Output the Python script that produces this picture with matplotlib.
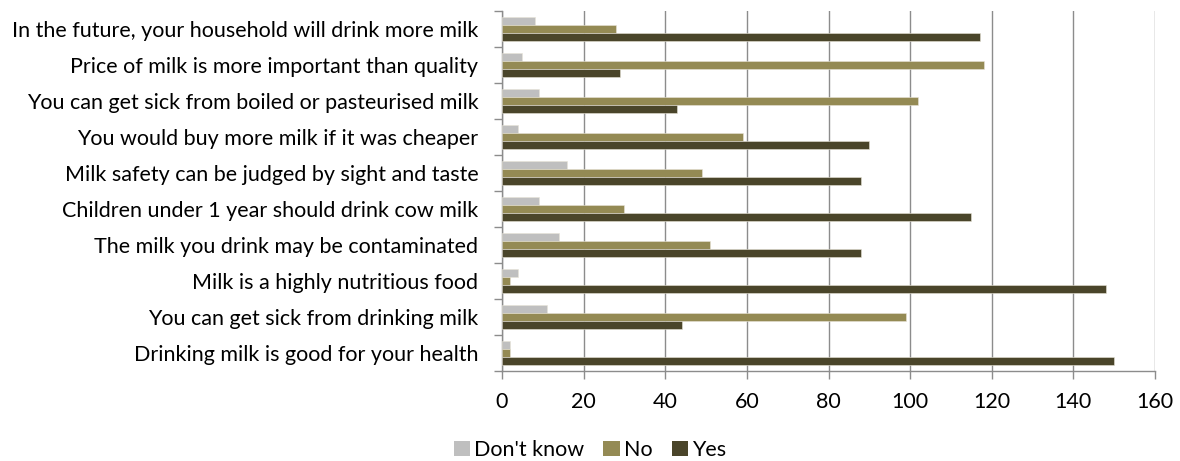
import numpy as np
import matplotlib
matplotlib.use('Agg')
import matplotlib.pyplot as plt
from matplotlib.patches import Patch

plt.rcParams['font.family'] = ['Lato', 'DejaVu Sans']

# statements, top to bottom
statements = [
    "In the future, your household will drink more milk",
    "Price of milk is more important than quality",
    "You can get sick from boiled or pasteurised milk",
    "You would buy more milk if it was cheaper",
    "Milk safety can be judged by sight and taste",
    "Children under 1 year should drink cow milk",
    "The milk you drink may be contaminated",
    "Milk is a highly nutritious food",
    "You can get sick from drinking milk",
    "Drinking milk is good for your health",
]
dont_know = [8, 5, 9, 4, 16, 9, 14, 4, 11, 2]
no = [28, 118, 102, 59, 49, 30, 51, 2, 99, 2]
yes = [117, 29, 43, 90, 88, 115, 88, 148, 44, 150]

series = [("Don't know", dont_know, '#BFBFBF'),
          ("No", no, '#948A54'),
          ("Yes", yes, '#4A452A')]

fs = 15.5

fig = plt.figure(figsize=(11.8, 4.61), dpi=100)
ax = fig.add_axes([502 / 1180, 1 - 371 / 461, (1155 - 502) / 1180, 360 / 461])

n = len(statements)
pos = np.arange(n)
h = 0.222
for k, (name, vals, col) in enumerate(series):
    ax.barh(pos + (k - 1) * h, vals, height=h, color=col,
            edgecolor='#E8E4D8', linewidth=0.4, zorder=3)

ax.set_ylim(n - 0.5, -0.5)
ax.set_xlim(0, 160)
ax.set_xticks(np.arange(0, 161, 20))
ax.set_yticks(pos)
ax.set_yticklabels(statements)
ax.set_yticks(np.arange(-0.5, n, 1), minor=True)

ax.grid(axis='x', color='#8C8C8C', linewidth=1.0, zorder=0)
for s in ['top', 'right']:
    ax.spines[s].set_visible(False)
for s in ['left', 'bottom']:
    ax.spines[s].set_color('#8C8C8C')
    ax.spines[s].set_linewidth(1.0)

ax.tick_params(axis='y', which='major', length=0, pad=17, labelsize=fs, labelcolor='black')
ax.tick_params(axis='y', which='minor', length=6, color='#8C8C8C', width=1.0)
ax.tick_params(axis='x', length=6, color='#8C8C8C', width=1.0, pad=9, labelsize=fs)

handles = [Patch(facecolor=c, label=nm) for nm, _, c in series]
fig.legend(handles=handles, loc='center', bbox_to_anchor=(0.5, 1 - 450 / 461),
           ncol=3, frameon=False, fontsize=fs, handlelength=0.75, handleheight=0.75,
           handletextpad=0.2, columnspacing=0.9)

fig.savefig('out.png', dpi=100)
